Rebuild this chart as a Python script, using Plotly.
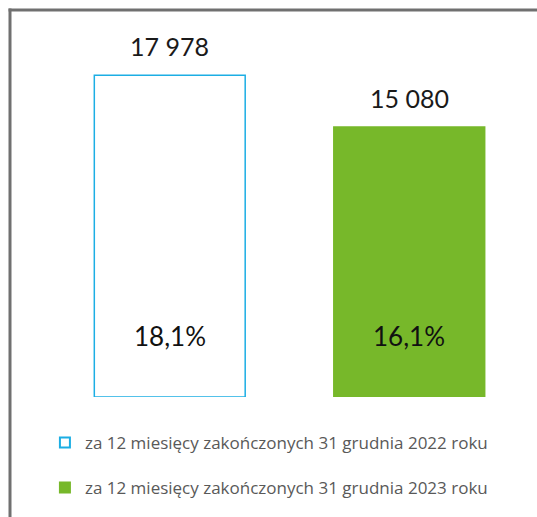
import plotly.graph_objects as go

periods = ['za 12 miesięcy zakończonych 31 grudnia 2022 roku',
           'za 12 miesięcy zakończonych 31 grudnia 2023 roku']
values = [17978, 15080]
value_labels = ['17 978', '15 080']
shares = ['18,1%', '16,1%']

fills = ['white', '#77B82A']
outlines = ['#1CAEE4', '#77B82A']
legend_symbols = ['square-open', 'square']
legends = ['legend', 'legend2']

fig = go.Figure()
for i in range(len(values)):
    fig.add_trace(go.Bar(x=[i], y=[values[i]], width=0.63, showlegend=False,
                         marker=dict(color=fills[i], line=dict(color=outlines[i], width=1.5)),
                         hoverinfo='skip'))
    # legend entry only (small square like the source)
    fig.add_trace(go.Scatter(x=[None], y=[None], mode='markers', name=periods[i],
                             marker=dict(symbol=legend_symbols[i], size=10, color=outlines[i],
                                         line=dict(color=outlines[i], width=2)),
                             legend=legends[i]))
    # value above the bar
    fig.add_annotation(x=i, y=values[i], text=value_labels[i], showarrow=False,
                       yanchor='bottom', yshift=12,
                       font=dict(family='Lato', size=25, color='#1a1a1a'))
    # share inside the bar
    fig.add_annotation(x=i, y=0, text=shares[i], showarrow=False,
                       yanchor='middle', yshift=61,
                       font=dict(family='Lato', size=26, color='#111111'))

# outer frame: only left and top sides are visible in the source
frame = dict(color='#707070', width=3)
fig.add_shape(type='line', xref='paper', yref='paper',
              x0=-0.0835, x1=-0.0835, y0=-0.35, y1=1.0585, line=frame)
fig.add_shape(type='line', xref='paper', yref='paper',
              x0=-0.0865, x1=1.0167, y0=1.0545, y1=1.0545, line=frame)

legend_font = dict(family='Open Sans', size=17, color='#595959')
fig.update_layout(
    width=537, height=517,
    margin=dict(l=50, r=8, t=30, b=120),
    paper_bgcolor='white', plot_bgcolor='white',
    showlegend=True,
    xaxis=dict(range=[-0.5, 1.5], visible=False),
    yaxis=dict(range=[0, 20500], visible=False),
    legend=dict(x=-0.0106, y=-0.125, xanchor='left', yanchor='middle',
                font=legend_font, itemwidth=30, bgcolor='rgba(0,0,0,0)'),
    legend2=dict(x=-0.0106, y=-0.248, xanchor='left', yanchor='middle',
                 font=legend_font, itemwidth=30, bgcolor='rgba(0,0,0,0)'),
)

# drop the default page margin so the figure fills the window exactly
fig.write_html('out.html', config={'displayModeBar': False},
               post_script="document.body.style.margin='0';document.body.style.overflow='hidden';"
                           "document.documentElement.style.overflow='hidden';")
